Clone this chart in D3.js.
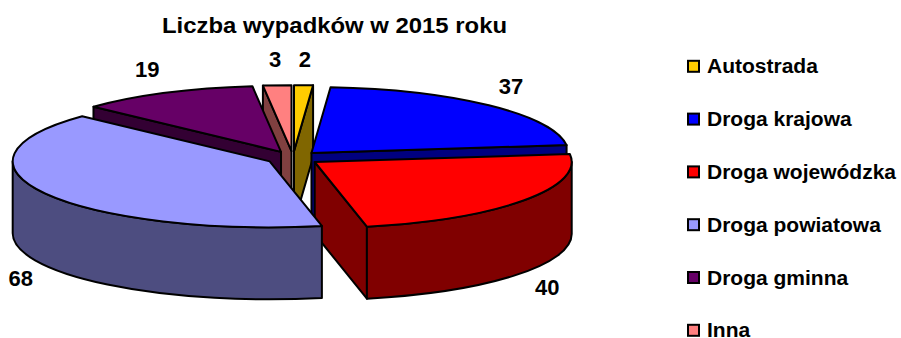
<!DOCTYPE html>
<html>
<head>
<meta charset="utf-8">
<script src="https://cdn.jsdelivr.net/npm/d3@7"></script>
<style>
  html, body { margin: 0; padding: 0; background: #fff; }
  svg { display: block; font-family: "Liberation Sans", Arial, sans-serif; }
</style>
</head>
<body>
<svg id="chart" width="901" height="338"></svg>
<script>
// ---- data ----
const chartTitle = "Liczba wypadków w 2015 roku";
const categories = ["Autostrada", "Droga krajowa", "Droga wojewódzka", "Droga powiatowa", "Droga gminna", "Inna"];
const values = [2, 37, 40, 68, 19, 3];
const topColors = ["#FFCC00", "#0000FF", "#FF0000", "#9999FF", "#660066", "#FF8080"];
const sideColors = ["#806600", "#000080", "#800000", "#4D4D80", "#330033", "#804040"];

// ---- layout ----
const svg = d3.select("#chart");
const cx = 293, cy = 158;          // centre of the disc's upper face
const rx = 257, ry = 66;           // radii of the tilted disc
const depth = 72;                  // thickness of the disc
const explode = 0.104;             // slice offset as a fraction of the radius
const stroke = "#000", strokeW = 2;

const rows = categories.map((name, i) => ({
  name, value: values[i], top: topColors[i], side: sideColors[i]
}));

const pie = d3.pie().sort(null).value(d => d.value).startAngle(0).endAngle(2 * Math.PI);
const slices = pie(rows);

// radius fraction -> pixel offset on the tilted disc
const xR = d3.scaleLinear().domain([0, 1]).range([0, rx]);
const yR = d3.scaleLinear().domain([0, 1]).range([0, ry]);

function mid(s) { return (s.startAngle + s.endAngle) / 2; }
function origin(s) {
  const m = mid(s);
  return [cx + xR(explode) * Math.sin(m), cy - yR(explode) * Math.cos(m)];
}
// point of slice s at angle a and radius fraction r, z pixels below the upper face
function pt(s, a, r, z) {
  const o = origin(s);
  return [o[0] + xR(r) * Math.sin(a), o[1] - yR(r) * Math.cos(a) + z];
}
const f = p => p[0].toFixed(2) + "," + p[1].toFixed(2);

function topPath(s) {
  const c = pt(s, 0, 0, 0), p0 = pt(s, s.startAngle, 1, 0), p1 = pt(s, s.endAngle, 1, 0);
  const large = (s.endAngle - s.startAngle) > Math.PI ? 1 : 0;
  return `M${f(c)}L${f(p0)}A${rx},${ry} 0 ${large} 1 ${f(p1)}Z`;
}
function wallPath(s) {
  const a0 = Math.max(s.startAngle, Math.PI / 2), a1 = Math.min(s.endAngle, 3 * Math.PI / 2);
  if (a1 <= a0) return null;
  const t0 = pt(s, a0, 1, 0), t1 = pt(s, a1, 1, 0), b0 = pt(s, a0, 1, depth), b1 = pt(s, a1, 1, depth);
  return `M${f(t0)}A${rx},${ry} 0 0 1 ${f(t1)}L${f(b1)}A${rx},${ry} 0 0 0 ${f(b0)}Z`;
}
function facePath(s, a) {
  return `M${f(pt(s, a, 0, 0))}L${f(pt(s, a, 1, 0))}L${f(pt(s, a, 1, depth))}L${f(pt(s, a, 0, depth))}Z`;
}

// radial cut faces that turn towards the viewer
const faces = [];
slices.forEach(s => {
  if (Math.sin(s.startAngle) < -1e-9) faces.push({ s, a: s.startAngle });
  if (Math.sin(s.endAngle) > 1e-9) faces.push({ s, a: s.endAngle });
});
faces.sort((p, q) => (-Math.cos(p.a)) - (-Math.cos(q.a)));

const pieG = svg.append("g")
  .attr("stroke", stroke).attr("stroke-width", strokeW).attr("stroke-linejoin", "round");

pieG.selectAll("path.face").data(faces).join("path")
  .attr("class", "face")
  .attr("d", d => facePath(d.s, d.a))
  .attr("fill", d => d.s.data.side);

pieG.selectAll("path.wall").data(slices.filter(s => wallPath(s))).join("path")
  .attr("class", "wall")
  .attr("d", wallPath)
  .attr("fill", d => d.data.side);

pieG.selectAll("path.top").data(slices).join("path")
  .attr("class", "top")
  .attr("d", topPath)
  .attr("fill", d => d.data.top);

// ---- value labels ----
const RXL = 298, RYL = 91;
const labelG = svg.append("g")
  .attr("font-size", 22).attr("font-weight", "bold").attr("fill", "#000");
slices.forEach(s => {
  const m = mid(s), sn = Math.sin(m), cs = Math.cos(m);
  const t = labelG.append("text").attr("text-anchor", "middle").text(s.data.value);
  const w = t.node().getComputedTextLength(), h = 15;
  const x = cx + RXL * sn + (w / 2) * Math.sign(sn) * Math.min(1, Math.abs(sn) * 4);
  const y = cy - (RYL + h / 2) * cs + (cs < 0 ? depth : 0);
  t.attr("x", x).attr("y", y + h / 2);
});

// ---- title ----
svg.append("text")
  .attr("x", 334.5).attr("y", 33)
  .attr("text-anchor", "middle")
  .attr("font-size", 22).attr("font-weight", "bold")
  .attr("textLength", 345).attr("lengthAdjust", "spacingAndGlyphs")
  .text(chartTitle);

// ---- legend ----
const legendY = d3.scaleLinear().domain([0, categories.length - 1]).range([66.3, 330.3]);
const leg = svg.append("g");
const item = leg.selectAll("g").data(rows).join("g")
  .attr("transform", (d, i) => `translate(688,${legendY(i)})`);
item.append("rect")
  .attr("x", 0).attr("y", -5.5).attr("width", 11).attr("height", 11)
  .attr("fill", d => d.top).attr("stroke", "#000").attr("stroke-width", 2);
item.append("text")
  .attr("x", 19).attr("y", 7)
  .attr("font-size", 20).attr("font-weight", "bold")
  .text(d => d.name)
  .each(function () {
    const n = this.getComputedTextLength();
    d3.select(this).attr("textLength", n * 1.05).attr("lengthAdjust", "spacingAndGlyphs");
  });
</script>
</body>
</html>
